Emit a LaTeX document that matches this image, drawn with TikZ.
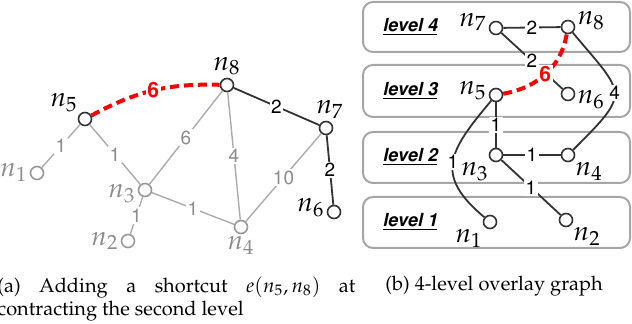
\documentclass[tikz,border=0pt]{standalone}
\usepackage[T1]{fontenc}
\usepackage{amsmath}
\usepackage{mathpazo}
\usepackage{helvet}

\begin{document}
\begin{tikzpicture}[x=0.5pt,y=-0.5pt,
  vtx/.style={circle,draw=black!80,fill=white,line width=0.8pt,minimum size=6.5pt,inner sep=0pt},
  gvtx/.style={vtx,draw=black!40},
  nlab/.style={font=\fontsize{13.5}{15}\selectfont,inner sep=1pt},
  glab/.style={nlab,text=black!45},
  elab/.style={font=\fontsize{9.5}{11}\selectfont\sffamily,fill=white,inner sep=0.8pt},
  gelab/.style={elab,text=black!45},
  redlab/.style={elab,text=red,font=\fontsize{10.5}{12}\selectfont\sffamily\bfseries},
  gedge/.style={draw=black!33,line width=0.7pt},
  bedge/.style={draw=black!80,line width=0.9pt},
  shortcut/.style={draw=red,line width=2pt,dash pattern=on 4.5pt off 2.5pt},
  lvlbox/.style={draw=black!35,line width=1pt,rounded corners=5pt},
  lvl/.style={font=\fontsize{9}{11}\selectfont\sffamily\bfseries\slshape},
  captxt/.style={font=\fontsize{10}{11.5}\selectfont,inner sep=0pt}]
\useasboundingbox (0,0) rectangle (632,324);
\begin{scope}
% (a) contracting the second level
\node[gvtx,label={[glab]left:$n_1$}] (a1) at (37,173) {};
\node[gvtx,label={[glab]left:$n_2$}] (a2) at (128,241) {};
\node[gvtx,label={[glab,yshift=-2pt]left:$n_3$}] (a3) at (145,190) {};
\node[gvtx,label={[glab]below:$n_4$}] (a4) at (241,227) {};
\node[vtx,label={[nlab]above left:$n_5$}] (a5) at (85,119) {};
\node[vtx,label={[nlab,yshift=2pt]left:$n_6$}] (a6) at (334,212) {};
\node[vtx,label={[nlab,xshift=2pt]above:$n_7$}] (a7) at (326,128) {};
\node[vtx,label={[nlab]above:$n_8$}] (a8) at (227,85) {};
\draw[gedge] (a1)--node[gelab]{1}(a5);\draw[gedge] (a5)--node[gelab]{1}(a3);\draw[gedge] (a3)--node[gelab]{1}(a2);
\draw[gedge] (a3)--node[gelab]{1}(a4);\draw[gedge] (a3)--node[gelab]{6}(a8);\draw[gedge] (a8)--node[gelab]{4}(a4);
\draw[gedge] (a4)--node[gelab]{10}(a7);
\draw[bedge] (a8)--node[elab]{2}(a7);\draw[bedge] (a7)--node[elab]{2}(a6);
\draw[shortcut] (a5) to[bend left=15] node[redlab]{6} (a8);
\node[captxt,anchor=north west,text width=179pt,align=justify] (capa) at (-3,276) {(a) Adding a shortcut $e(n_5,n_8)$ at\linebreak contracting the second level};
\end{scope}
\begin{scope}
% (b) overlay graph
\foreach \l/\t/\b in {4/2/52,3/65/117,2/132/183,1/197/248}{\draw[lvlbox] (363,\t) rectangle (630,\b);\node[lvl] (lv\l) at (410,{(\t+\b)/2}) {\underline{level \l}};}
\node[vtx,label={[nlab]below left:$n_1$}] (b1) at (490,222) {};
\node[vtx,label={[nlab]below right:$n_2$}] (b2) at (566,220) {};
\node[vtx,label={[nlab]below left:$n_3$}] (b3) at (496,155) {};
\node[vtx,label={[nlab]below right:$n_4$}] (b4) at (568,155) {};
\node[vtx,label={[nlab,yshift=2pt]left:$n_5$}] (b5) at (496,95) {};
\node[vtx,label={[nlab,yshift=-3pt]right:$n_6$}] (b6) at (568,94) {};
\node[vtx,label={[nlab,yshift=3pt]left:$n_7$}] (b7) at (496,28) {};
\node[vtx,label={[nlab,yshift=3pt]right:$n_8$}] (b8) at (568,27) {};
\draw[bedge] (b7)--node[elab]{2}(b8);\draw[bedge] (b7)--node[elab]{2}(b6);
\draw[bedge] (b8) to[out=-50,in=45,looseness=1.8] node[elab]{4} (b4);
\draw[bedge] (b5)--node[elab]{1}(b3);\draw[bedge] (b5) to[out=-130,in=140,looseness=1.45] node[elab]{1} (b1);
\draw[bedge] (b3)--node[elab]{1}(b4);\draw[bedge] (b3)--node[elab]{1}(b2);
\draw[shortcut] (b5) to[out=10,in=-100] node[redlab]{6} (b8);
\node[captxt,anchor=base west] (capb) at (385,291) {(b) 4-level overlay graph};
\end{scope}
\end{tikzpicture}
\end{document}
